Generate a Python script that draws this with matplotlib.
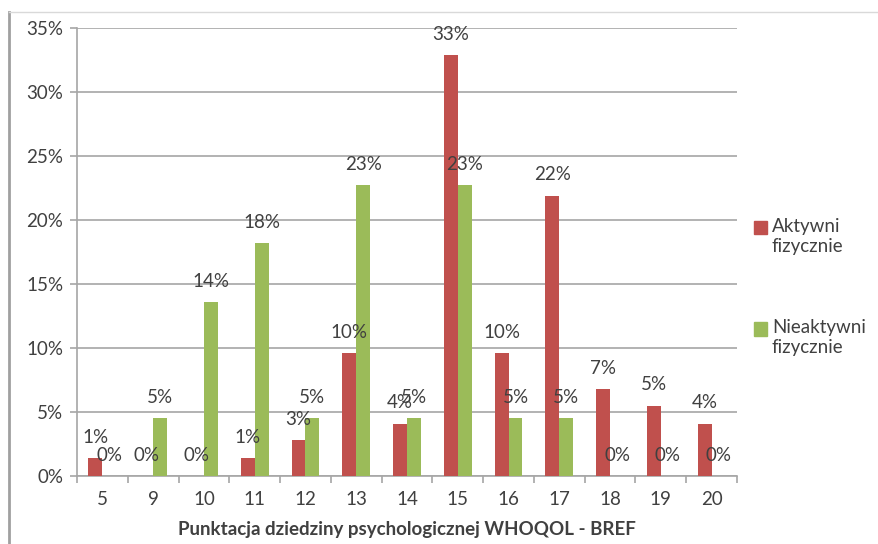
import matplotlib
matplotlib.use("Agg")
import matplotlib.pyplot as plt
from matplotlib.lines import Line2D
from matplotlib.patches import Patch, Rectangle
from matplotlib.legend_handler import HandlerPatch
import numpy as np

plt.rcParams['font.family'] = ['Lato', 'DejaVu Sans']

categories = ["5", "9", "10", "11", "12", "13", "14", "15", "16", "17", "18", "19", "20"]
aktywni = [1.4, 0.0, 0.0, 1.4, 2.8, 9.6, 4.1, 32.9, 9.6, 21.9, 6.8, 5.5, 4.1]
aktywni_labels = ["1%", "0%", "0%", "1%", "3%", "10%", "4%", "33%", "10%", "22%", "7%", "5%", "4%"]
nieaktywni = [0.0, 4.5, 13.6, 18.2, 4.5, 22.7, 4.5, 22.7, 4.5, 4.5, 0.0, 0.0, 0.0]
nieaktywni_labels = ["0%", "5%", "14%", "18%", "5%", "23%", "5%", "23%", "5%", "5%", "0%", "0%", "0%"]
series_names = ["Aktywni\nfizycznie", "Nieaktywni\nfizycznie"]
yticks = [0, 5, 10, 15, 20, 25, 30, 35]
xlabel = "Punktacja dziedziny psychologicznej WHOQOL - BREF"

RED = "#C0504D"
GREEN = "#9BBB59"
TEXT = "#404040"
GRID = "#A6A6A6"
FS = 13.5

fig = plt.figure(figsize=(8.79, 5.44), dpi=100)
ax = fig.add_axes([77 / 879, 1 - 476 / 544, (737 - 77) / 879, (476 - 28) / 544])

x = np.arange(len(categories))
w = 0.275
ax.bar(x - w / 2, aktywni, width=w, color=RED, zorder=3)
ax.bar(x + w / 2, nieaktywni, width=w, color=GREEN, zorder=3)

# value labels above each bar
for offs, vals, labs in ((-w / 2, aktywni, aktywni_labels), (w / 2, nieaktywni, nieaktywni_labels)):
    for xi, v, lab in zip(x, vals, labs):
        ax.annotate(lab, (xi + offs, v), xytext=(0, 15), textcoords="offset points",
                    ha="center", va="center", fontsize=FS, color=TEXT, zorder=4)

ax.set_xlim(-0.5, len(categories) - 0.5)
ax.set_ylim(0, 35)
ax.set_yticks(yticks)
ax.set_yticklabels([f"{t}%" for t in yticks])
ax.yaxis.grid(True, color=GRID, linewidth=1.2, zorder=0)
ax.set_axisbelow(True)

ax.set_xticks(x)
ax.set_xticklabels(categories)
ax.set_xticks(np.arange(-0.5, len(categories)), minor=True)
ax.tick_params(axis="x", which="major", length=0, pad=11, labelsize=FS, labelcolor=TEXT)
ax.tick_params(axis="x", which="minor", length=5, color=GRID, width=1.2)
ax.tick_params(axis="y", length=5, color=GRID, width=1.2, labelsize=FS, labelcolor=TEXT, pad=5)

for s in ("top", "right"):
    ax.spines[s].set_visible(False)
for s in ("left", "bottom"):
    ax.spines[s].set_color(GRID)
    ax.spines[s].set_linewidth(1.2)

ax.set_xlabel(xlabel, fontsize=FS, fontweight="bold", color=TEXT, labelpad=9)


# legend squares sit next to the first line of each two-line label
def first_line_square(legend, orig_handle, xdescent, ydescent, width, height, fontsize):
    return Rectangle((-xdescent, -ydescent + 0.5 * fontsize), width, height)


handles = [Patch(color=RED), Patch(color=GREEN)]
leg = fig.legend(handles, series_names, loc="upper left", bbox_to_anchor=(754 / 879, 1 - 218 / 544),
                 frameon=False, fontsize=FS, handlelength=0.7, handleheight=0.7,
                 handletextpad=0.25, labelspacing=3.45, borderaxespad=0, borderpad=0,
                 handler_map={Patch: HandlerPatch(patch_func=first_line_square)})
for t in leg.get_texts():
    t.set_color(TEXT)

# frame lines around the chart area
fig.add_artist(Line2D([9 / 879, 9 / 879], [0, 1 - 12 / 544], color="#A0A0A0", linewidth=2,
                      transform=fig.transFigure))
fig.add_artist(Line2D([9 / 879, 1], [1 - 12 / 544, 1 - 12 / 544], color="#D9D9D9", linewidth=1,
                      transform=fig.transFigure))

fig.savefig("out.png", dpi=100)
